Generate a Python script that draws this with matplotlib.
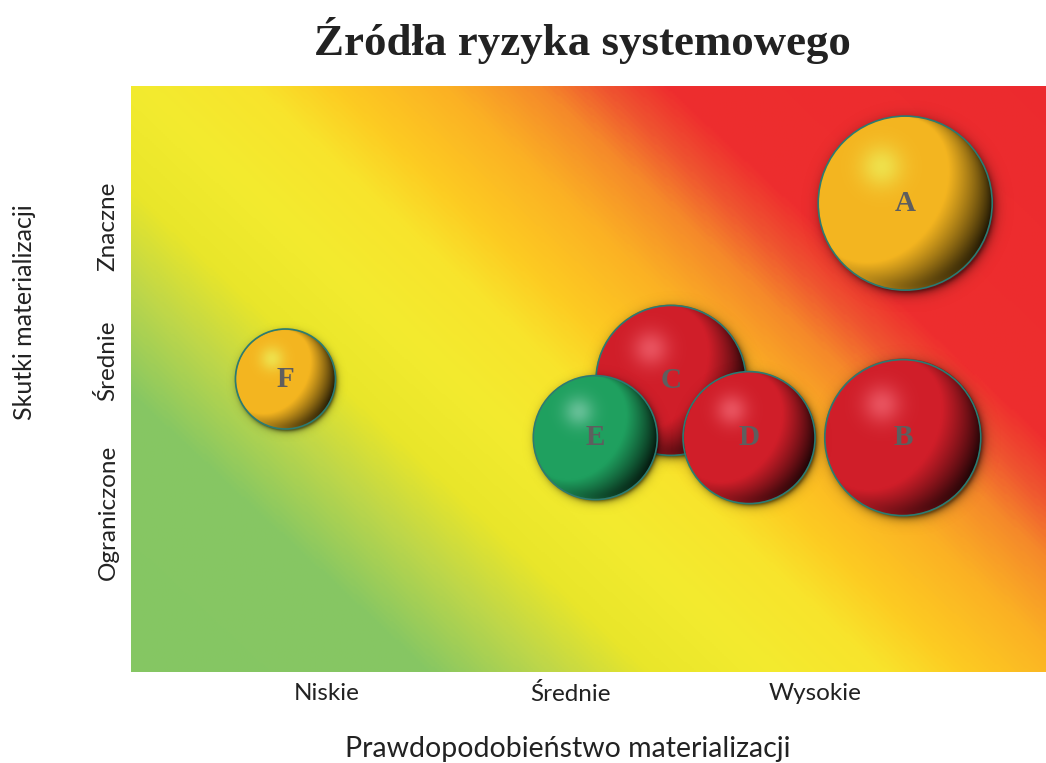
import numpy as np
import matplotlib
matplotlib.use("Agg")
import matplotlib.pyplot as plt
from matplotlib.colors import LinearSegmentedColormap, to_rgb
from matplotlib.patches import Ellipse

# dane
etykiety = ["A", "B", "C", "D", "E", "F"]
prawdopodobienstwo = [3.37, 3.36, 2.41, 2.73, 2.10, 0.83]
skutki = [3.16, 1.52, 1.92, 1.52, 1.52, 1.93]
wielkosc = [87, 78, 75, 66, 62, 50]
kategoria = ["zolty", "czerwony", "czerwony", "czerwony", "zielony", "zolty"]

x_ticks = [1, 2, 3]
x_labels = ["Niskie", "Średnie", "Wysokie"]
y_ticks = [1, 2.06, 3]
y_labels = ["Ograniczone", "Średnie", "Znaczne"]

palety = {
    "zolty": ("#f4b520", "#eeea55"),
    "czerwony": ("#d01e29", "#ee5e6a"),
    "zielony": ("#1fa05f", "#74c6a2"),
}

W, H, DPI = 1046, 763, 100
fig = plt.figure(figsize=(W / DPI, H / DPI), dpi=DPI)
ax_l, ax_r, ax_t, ax_b = 131, 1046, 86, 672
ax = fig.add_axes([ax_l / W, 1 - ax_b / H, (ax_r - ax_l) / W, (ax_b - ax_t) / H])
xlim = (0.197, 3.947)
ylim = (-0.119, 3.979)
ax.set_xlim(xlim)
ax.set_ylim(ylim)
ax.set_autoscale_on(False)

# tlo - ukosny gradient zielony -> zolty -> czerwony
gx = np.linspace(ax_l, ax_r, 460)
gy = np.linspace(ax_t, ax_b, 300)
GX, GY = np.meshgrid(gx, gy)
t = 0.68 * GX - 0.73 * GY
stops = [(-420, "#85c663"), (-200, "#87c763"), (-117, "#bfd749"), (-50, "#e9e62a"),
         (30, "#f3eb2f"), (110, "#f8e42c"), (165, "#fdcb22"), (240, "#fbb124"),
         (305, "#f5892a"), (348, "#ef5530"), (392, "#ee2e2e"), (700, "#ec2a2e")]
t0, t1 = stops[0][0], stops[-1][0]
cmap = LinearSegmentedColormap.from_list(
    "ryzyko", [((s - t0) / (t1 - t0), c) for s, c in stops])
ax.imshow(cmap((t - t0) / (t1 - t0)), extent=(*xlim, *ylim), origin="upper",
          aspect="auto", interpolation="bilinear", zorder=0)


def kula(base, hl, n=360, m=1.25):
    u = np.linspace(-m, m, n)
    U, V = np.meshgrid(u, u)
    r = np.hypot(U, V)
    z = np.sqrt(np.clip(1 - r ** 2, 0, 1))
    L = np.array([-0.55, 0.35, 0.76])
    L = L / np.linalg.norm(L)
    diff = U * L[0] + V * L[1] + z * L[2]
    s = np.clip((diff + 0.55) / 1.0, 0, 1)
    shade = 0.12 + 0.88 * s ** 1.3
    rim = np.exp(-np.clip(1 - r, 0, None) / 0.05) * np.clip(-V - 0.4, 0, 1) * 0.5
    shade = np.clip(shade + rim, 0, 1)
    col = np.array(to_rgb(base))[None, None, :] * shade[..., None]
    h = np.exp(-((U + 0.27) ** 2 + (V - 0.42) ** 2) / (2 * 0.17 ** 2)) * 0.8
    col = col * (1 - h[..., None]) + np.array(to_rgb(hl))[None, None, :] * h[..., None]
    px = 2 * m / n
    a_in = np.clip((1 - r) / (1.5 * px) + 0.5, 0, 1)
    rs = np.hypot(U - 0.03, V + 0.04)
    a_sh = 0.55 * np.exp(-np.clip(rs - 0.98, 0, None) / 0.05)
    a = a_in + a_sh * (1 - a_in)
    rgb = col * (a_in / np.maximum(a, 1e-6))[..., None]
    return np.dstack([np.clip(rgb, 0, 1), a])


fig.canvas.draw()
p0 = ax.transData.transform((0, 0))
p1 = ax.transData.transform((1, 1))
sx, sy = p1[0] - p0[0], p1[1] - p0[1]
m = 1.25
for lab, x, y, w, k in zip(etykiety, prawdopodobienstwo, skutki, wielkosc, kategoria):
    rx, ry = w / sx, w / sy
    zo = 10 - y
    base, hl = palety[k]
    ax.imshow(kula(base, hl, m=m), extent=(x - m * rx, x + m * rx, y - m * ry, y + m * ry),
              origin="lower", aspect="auto", interpolation="bilinear", zorder=zo)
    ax.add_patch(Ellipse((x, y), 2 * rx, 2 * ry, facecolor="none", edgecolor="#2b7b72",
                         lw=1.2, zorder=zo + 0.01))
    ax.text(x, y, lab, ha="center", va="center", fontsize=21, fontweight="bold",
            family="Liberation Serif", color="#5e5e5e", zorder=zo + 0.02)

ax.set_xlim(xlim)
ax.set_ylim(ylim)
for s in ax.spines.values():
    s.set_visible(False)
ax.set_xticks(x_ticks)
ax.set_xticklabels(x_labels, family="Lato", fontsize=17.5, color="#222222")
ax.set_yticks(y_ticks)
ax.set_yticklabels(y_labels, family="Lato", fontsize=17.5, color="#222222",
                   rotation=90, va="center")
ax.tick_params(length=0)
ax.tick_params(axis="x", pad=8)
ax.tick_params(axis="y", pad=9)

fig.text(568 / W, 1 - 749 / H, "Prawdopodobieństwo materializacji", ha="center",
         va="center", family="Lato", fontsize=20.5, color="#222222")
fig.text(25 / W, 1 - 312 / H, "Skutki materializacji", ha="center", va="center",
         rotation=90, family="Lato", fontsize=18, color="#222222")
fig.text(582 / W, 1 - 40 / H, "Źródła ryzyka systemowego", ha="center", va="center",
         family="Liberation Serif", fontweight="bold", fontsize=32.3, color="#222222")

fig.savefig("out.png", dpi=DPI)
